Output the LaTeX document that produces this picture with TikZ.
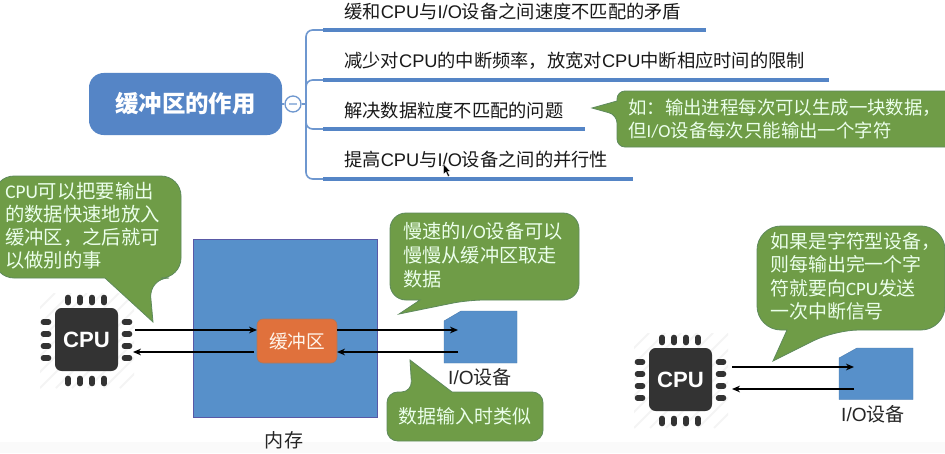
\documentclass[tikz,border=0pt]{standalone}
\usepackage{fontspec}
\setmainfont{Noto Sans CJK SC}
\newfontfamily\carl{Carlito}
\newfontfamily\helv{Liberation Sans}
\usetikzlibrary{arrows.meta}
\definecolor{mindblue}{HTML}{5585C6}
\definecolor{boxblue}{HTML}{5790CA}
\definecolor{bubgreen}{HTML}{6F9C47}
\definecolor{bubedge}{HTML}{5E8A5C}
\definecolor{bufor}{HTML}{E0713C}
\definecolor{chipdark}{HTML}{333333}
\newcommand\lat[1]{{\carl #1}}
\newcommand\hl[1]{{\helv #1}}
\newcommand\chipdraw[2]{%
  \begin{scope}[shift={#2}]
    \begin{scope}
      \clip (40,293) rectangle (134,388);
      \foreach \d in {0,16,...,176}
        \draw[gray!9,line width=1.4pt] (\d+40-80,388) -- (\d+40+15,293);
    \end{scope}
    \node[chipbody] (#1) at (86.5,339.5) {CPU};
    \foreach \p in {68,80,92,104} {
      \draw[pin] (\p,297.5) -- (\p,302.5);
      \draw[pin] (\p,378.5) -- (\p,383.5);
    }
    \foreach \p in {322,334,346,358} {
      \draw[pin] (43.5,\p) -- (48.5,\p);
      \draw[pin] (124.5,\p) -- (129.5,\p);
    }
  \end{scope}}
\tikzset{
  x=0.75pt,y=-0.75pt,
  rootbox/.style={draw=none,fill=mindblue,rounded corners=11pt,minimum width=144.75pt,minimum height=46.5pt,inner sep=0pt,text=white,font=\fontsize{17.6}{20}\selectfont\bfseries},
  minusnode/.style={circle,draw=mindblue!85,fill=white,line width=1pt,minimum size=12pt,inner sep=0pt,text=mindblue!55},
  branch/.style={draw=mindblue!85,line width=1.2pt,rounded corners=5pt},
  uline/.style={draw=mindblue,line width=3.6pt},
  item/.style={anchor=west,inner sep=0pt,text=black!90,font=\fontsize{13.7}{16}\selectfont},
  bubble/.style={fill=bubgreen,draw=bubedge,line width=0.6pt},
  bubtext/.style={anchor=north west,align=left,inner sep=0pt,text=white!92!green,font=\fontsize{14.2}{17.6}\selectfont},
  memory/.style={fill=boxblue,draw=gray!70!blue,line width=0.4pt,minimum width=138pt,minimum height=133.5pt,inner sep=0pt},
  bufbox/.style={fill=bufor,draw=gray!60!bufor,line width=0.5pt,rounded corners=4.5pt,minimum width=60pt,minimum height=33pt,inner sep=0pt,text=white!92!orange,font=\fontsize{14}{17}\selectfont},
  device/.style={fill=boxblue,draw=boxblue!85!black,line width=0.3pt},
  caption/.style={inner sep=0pt,text=black!85,font=\fontsize{14.3}{17}\selectfont},
  flow/.style={draw=black,line width=0.9pt,-{Stealth[length=6pt,width=5pt]}},
  chipbody/.style={fill=chipdark,rounded corners=5pt,minimum size=47.25pt,inner sep=0pt,text=white,font=\helv\bfseries\fontsize{16.6}{18}\selectfont},
  pin/.style={draw=chipdark,line width=4.2pt,line cap=round},
}
\begin{document}
\begin{tikzpicture}
\useasboundingbox (0,0) rectangle (945,453);
\fill[white] (0,0) rectangle (945,453);
\fill[black!2] (0,442) rectangle (945,453);
\clip (0,0) rectangle (945,453);

% mind map
\node[rootbox] (root) at (185.5,104) {缓冲区的作用};
\node[minusnode] (minus) at (293,104) {\rule{6pt}{1pt}};
\coordinate (stem) at (306,104);
\coordinate (u1) at (323,30);  \coordinate (u1e) at (706,30);
\coordinate (u2) at (323,80);  \coordinate (u2e) at (829,80);
\coordinate (u3) at (323,129); \coordinate (u3e) at (585,129);
\coordinate (u4) at (323,179); \coordinate (u4e) at (633,179);
\draw[branch] (root.east) -- (minus.west);
\draw[branch] (minus.east) -- (stem);
\draw[branch] (stem) |- (u1);
\draw[branch] (stem) |- (u2);
\draw[branch] (stem) |- (u3);
\draw[branch] (stem) |- (u4);
\draw[uline] (u1) -- (u1e);
\draw[uline] (u2) -- (u2e);
\draw[uline] (u3) -- (u3e);
\draw[uline] (u4) -- (u4e);
\node[item] (t1) at (344,12)  {缓和\hl{CPU}与\hl{I/O}设备之间速度不匹配的矛盾};
\node[item] (t2) at (344,61)  {减少对\hl{CPU}的中断频率，放宽对\hl{CPU}中断相应时间的限制};
\node[item] (t3) at (344,111) {解决数据粒度不匹配的问题};
\node[item] (t4) at (344,160) {提高\hl{CPU}与\hl{I/O}设备之间的并行性};
% cursor
\fill[black,draw=white,line width=0.2pt] (443.5,164) -- (443.5,174) -- (446,172) -- (448,176.5) -- (449.5,175.5) -- (447.5,171.5) -- (450,171) -- cycle;

% note beside the third item
\path[bubble] (780,91) [rounded corners=6pt] -- (960,91) -- (960,147) -- (617,147) -- (617,115) [sharp corners] -- (592,108) -- (617,101) [rounded corners=6pt] -- (617,91) -- cycle;
\node[bubtext,font=\fontsize{13.8}{17.6}\selectfont] (n1) at (628,98.5) {如：输出进程每次可以生成一块数据，\\但\lat{I/O}设备每次只能输出一个字符};

% memory, buffer, device
\node[memory] (mem) at (285,328) {};
\node[caption] (memlabel) at (284,440) {内存};
\node[bufbox] (buf) at (297,341) {缓冲区};
\path[device] (444,321) -- (461,311) -- (517,311) -- (517,363) -- (444,363) -- cycle;
\node[caption] (devlabel1) at (480,377) {\hl{I/O}设备};

% first chip
\chipdraw{cpua}{(0,0)}
\coordinate (ca1) at (135,330); \coordinate (ca2) at (133,352);
\coordinate (ba1) at (257,330); \coordinate (ba2) at (254,352);
\coordinate (bb1) at (337,330); \coordinate (bb2) at (337,352);
\coordinate (da1) at (458,330); \coordinate (da2) at (458,352);
\draw[flow] (ca1) -- (ba1);
\draw[flow] (ba2) -- (ca2);
\draw[flow] (bb1) -- (da1);
\draw[flow] (da2) -- (bb2);

% bubbles of the left diagram
\path[bubble] (90,176) [rounded corners=15pt] -- (181,176) -- (181,278) -- (149,278) [sharp corners] -- (153,322) -- (105,278) [rounded corners=15pt] -- (-6,278) -- (-6,176) -- cycle;
\node[bubtext,font=\fontsize{14.5}{17.3}\selectfont] (n2) at (5,182) {\lat{CPU}可以把要输出\\的数据快速地放入\\缓冲区，之后就可\\以做别的事};

\path[bubble] (480,213) [rounded corners=12pt] -- (579,213) -- (579,300) -- (468,300) [sharp corners] -- (399,314) -- (420,300) [rounded corners=12pt] -- (390,300) -- (390,213) -- cycle;
\node[bubtext,font=\fontsize{14.4}{18}\selectfont] (n3) at (403,222) {慢速的\lat{I/O}设备可以\\慢慢从缓冲区取走\\数据};

\path[bubble] (465,392) [rounded corners=8pt] -- (543,392) -- (543,441) -- (387,441) -- (387,392) -- (412,392) [sharp corners] -- (410,360) -- (452,392) [rounded corners=8pt] -- cycle;
\node[bubtext,anchor=center,font=\fontsize{14.2}{17}\selectfont] (n4) at (465,416) {数据输入时类似};

% right diagram
\chipdraw{cpub}{(594,40)}
\path[device] (839,358) -- (857,348) -- (913,348) -- (913,399.5) -- (839,399.5) -- cycle;
\node[caption] (devlabel2) at (873,414) {\hl{I/O}设备};
\coordinate (cb1) at (732,367); \coordinate (cb2) at (732,389);
\coordinate (db1) at (854,367); \coordinate (db2) at (854,389);
\draw[flow] (cb1) -- (db1);
\draw[flow] (db2) -- (cb2);
\path[bubble] (850,226) [rounded corners=18pt] -- (945,226) -- (945,330) -- (835,330) [sharp corners] -- (773,361) -- (787,330) [rounded corners=18pt] -- (757,330) -- (757,226) -- cycle;
\node[bubtext,font=\fontsize{14.2}{17.6}\selectfont] (n5) at (770,232) {如果是字符型设备，\\则每输出完一个字\\符就要向\lat{CPU}发送\\一次中断信号};
\end{tikzpicture}
\end{document}
